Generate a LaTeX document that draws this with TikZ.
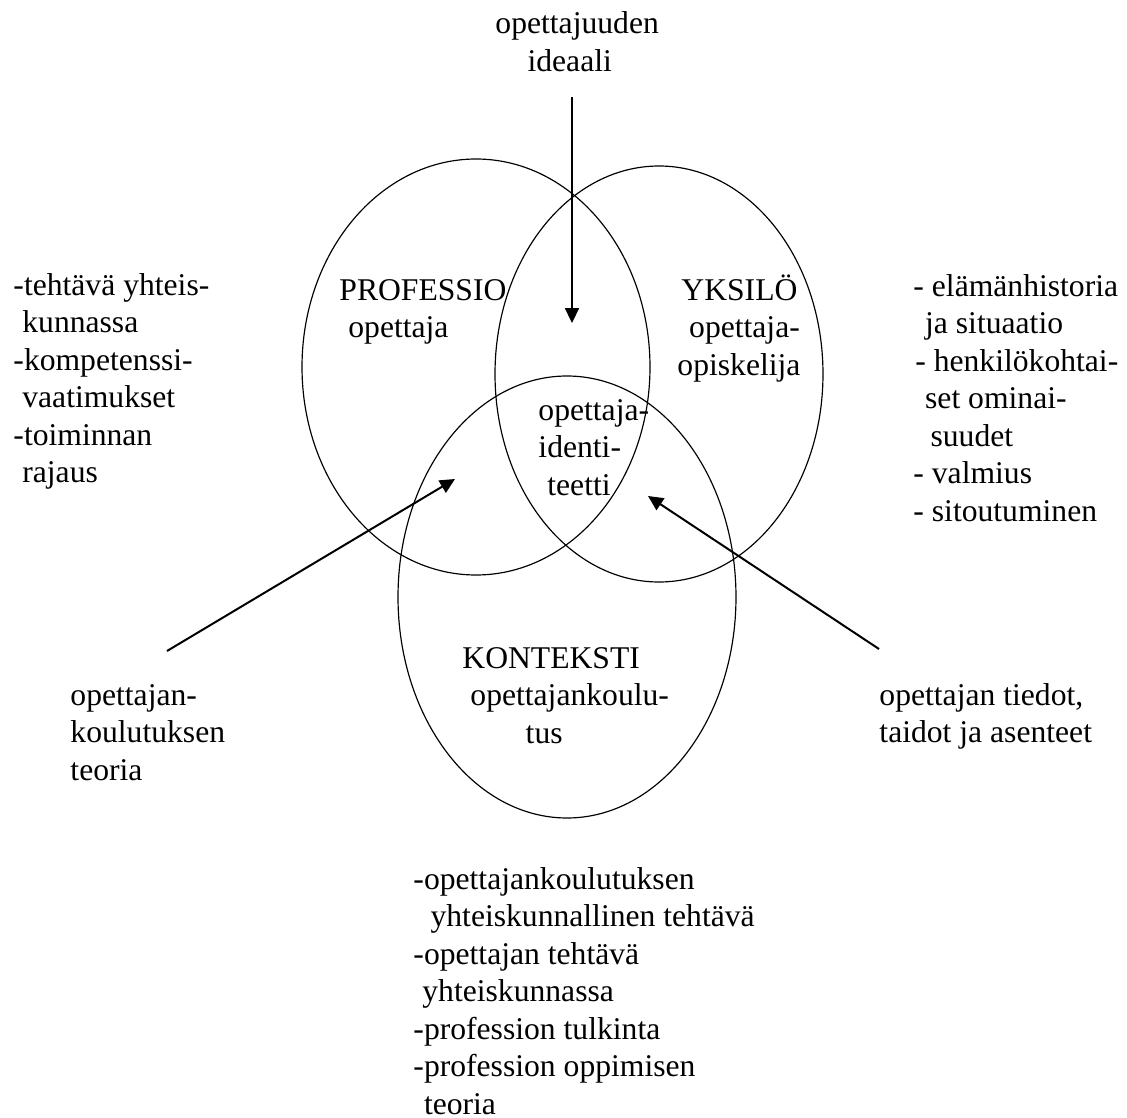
\documentclass[tikz,border=0pt]{standalone}
\usepackage{fontspec}
\setmainfont{Liberation Serif}
\usepackage{tikz}
\usetikzlibrary{arrows.meta}
\tikzset{
  teksti/.style={font=\fontsize{13.5}{16}\selectfont,align=left,inner sep=0pt,anchor=base west},
  venn/.style={line width=0.5pt},
  nuoli/.style={line width=0.85pt,-{Triangle[length=6.4pt,width=6pt]}},
}
\newcommand{\sis}[1]{\hspace*{#1}}

\begin{document}
\begin{tikzpicture}[x=0.015cm,y=-0.015cm]
  \useasboundingbox (0,0) rectangle (1127,1118);
  % ellipsit
  \coordinate (prof) at (476,367);
  \coordinate (yks)  at (659,374);
  \coordinate (kont) at (567,597);
  \draw[venn] (prof) ellipse [x radius=174,y radius=208];
  \draw[venn] (yks)  ellipse [x radius=164,y radius=208];
  \draw[venn] (kont) ellipse [x radius=169,y radius=221];
  % tekstit ellipseissa (kohta = viimeisen rivin perusviiva)
  \node[teksti] (profT) at (339,337.5) {PROFESSIO\\\sis{3.8pt}opettaja};
  \node[teksti] (yksT)  at (677,375) {\sis{1.7pt}YKSILÖ\\\sis{5pt}opettaja-\\opiskelija};
  \node[teksti] (idT)   at (538,495) {opettaja-\\identi-\\\sis{3.8pt}teetti};
  \node[teksti] (kontT) at (462,743) {KONTEKSTI\\\sis{3.4pt}opettajankoulu-\\\sis{27pt}tus};
  % tekstit ulkona
  \node[teksti] (ideaali) at (495,71) {opettajuuden\\\sis{13.7pt}ideaali};
  \node[teksti] (tehtava) at (13,482.5) {-tehtävä yhteis-\\\sis{3.8pt}kunnassa\\-kompetenssi-\\\sis{3.8pt}vaatimukset\\-toiminnan\\\sis{3.8pt}rajaus};
  \node[teksti] (elama) at (913,521) {- elämänhistoria\\\sis{5pt}ja situaatio\\\sis{0.8pt}- henkilökohtai-\\\sis{5pt}set ominai-\\\sis{7.3pt}suudet\\- valmius\\- sitoutuminen};
  \node[teksti] (teoria) at (70,780) {opettajan-\\koulutuksen\\teoria};
  \node[teksti] (tiedot) at (879,742.5) {opettajan tiedot,\\taidot ja asenteet};
  \node[teksti] (yhteis) at (413,1114) {-opettajankoulutuksen\\\sis{7.3pt}yhteiskunnallinen tehtävä\\-opettajan tehtävä\\\sis{3.8pt}yhteiskunnassa\\-profession tulkinta\\-profession oppimisen\\\sis{4.5pt}teoria};
  % nuolet
  \coordinate (ideaaliA) at (572,97);
  \coordinate (ideaaliB) at (572,323);
  \coordinate (teoriaA)  at (167,651);
  \coordinate (teoriaB)  at (455,479);
  \coordinate (tiedotA)  at (879,649);
  \coordinate (tiedotB)  at (648,496);
  \draw[nuoli] (ideaaliA) -- (ideaaliB);
  \draw[nuoli] (teoriaA) -- (teoriaB);
  \draw[nuoli] (tiedotA) -- (tiedotB);
\end{tikzpicture}
\end{document}
